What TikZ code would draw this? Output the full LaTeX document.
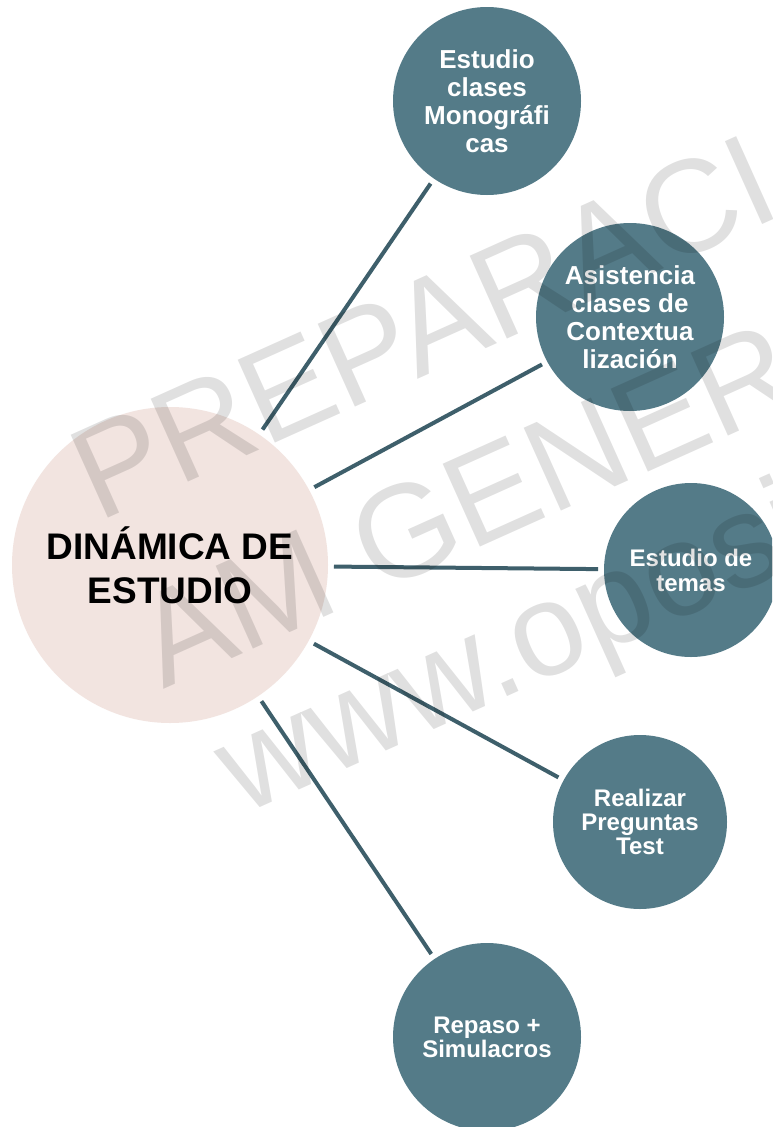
\documentclass[tikz,border=0pt]{standalone}
\usepackage{fontspec}
\setmainfont{Liberation Sans}
\definecolor{nodefill}{RGB}{84,123,136}
\definecolor{linecol}{RGB}{62,95,107}
\definecolor{pinkfill}{RGB}{242,228,224}
\begin{document}
\begin{tikzpicture}[x=1pt,y=-1pt,
  topic/.style={circle, fill=nodefill, inner sep=0pt, outer sep=0pt, text=white, align=center},
  hub/.style={circle, fill=pinkfill, inner sep=0pt, outer sep=0pt, text=black, align=center,
    minimum size=316pt, font=\bfseries\fontsize{37}{44}\selectfont},
  conn/.style={draw=linecol, line width=4pt, shorten <=6pt, shorten >=6pt},
  wmark/.style={rotate=24.2, anchor=base west, text=black, opacity=0.12, inner sep=0pt,
    font=\fontsize{132}{132}\selectfont}]
\useasboundingbox (0,0) rectangle (772,1127);
\clip (0,0) rectangle (772,1127);
\fill[white] (0,0) rectangle (772,1127);

\node[hub] (c) at (170,565) {DINÁMICA DE\\ESTUDIO};
\node[topic, minimum size=188pt, font=\bfseries\fontsize{26}{28}\selectfont] (t1) at (487,101) {Estudio\\clases\\Monográfi\\cas};
\node[topic, minimum size=188pt, font=\bfseries\fontsize{26}{28}\selectfont] (t2) at (630,317) {Asistencia\\clases de\\Contextua\\lización};
\node[topic, minimum size=174pt, font=\bfseries\fontsize{24}{25}\selectfont] (t3) at (691,570) {Estudio de\\temas};
\node[topic, minimum size=174pt, font=\bfseries\fontsize{24}{24}\selectfont] (t4) at (640,822) {Realizar\\Preguntas\\Test};
\node[topic, minimum size=188pt, font=\bfseries\fontsize{24}{24}\selectfont] (t5) at (487,1037) {Repaso +\\Simulacros};

\draw[conn] (c) -- (t1);
\draw[conn] (c) -- (t2);
\draw[conn] (c) -- (t3);
\draw[conn] (c) -- (t4);
\draw[conn] (c) -- (t5);

\node[wmark] (w1) at (98,523) {PREPARACI};
\node[wmark] (w2) at (163,690) {AM GENER};
\node[wmark] (w3) at (242,816) {www.oposi};
\end{tikzpicture}
\end{document}
